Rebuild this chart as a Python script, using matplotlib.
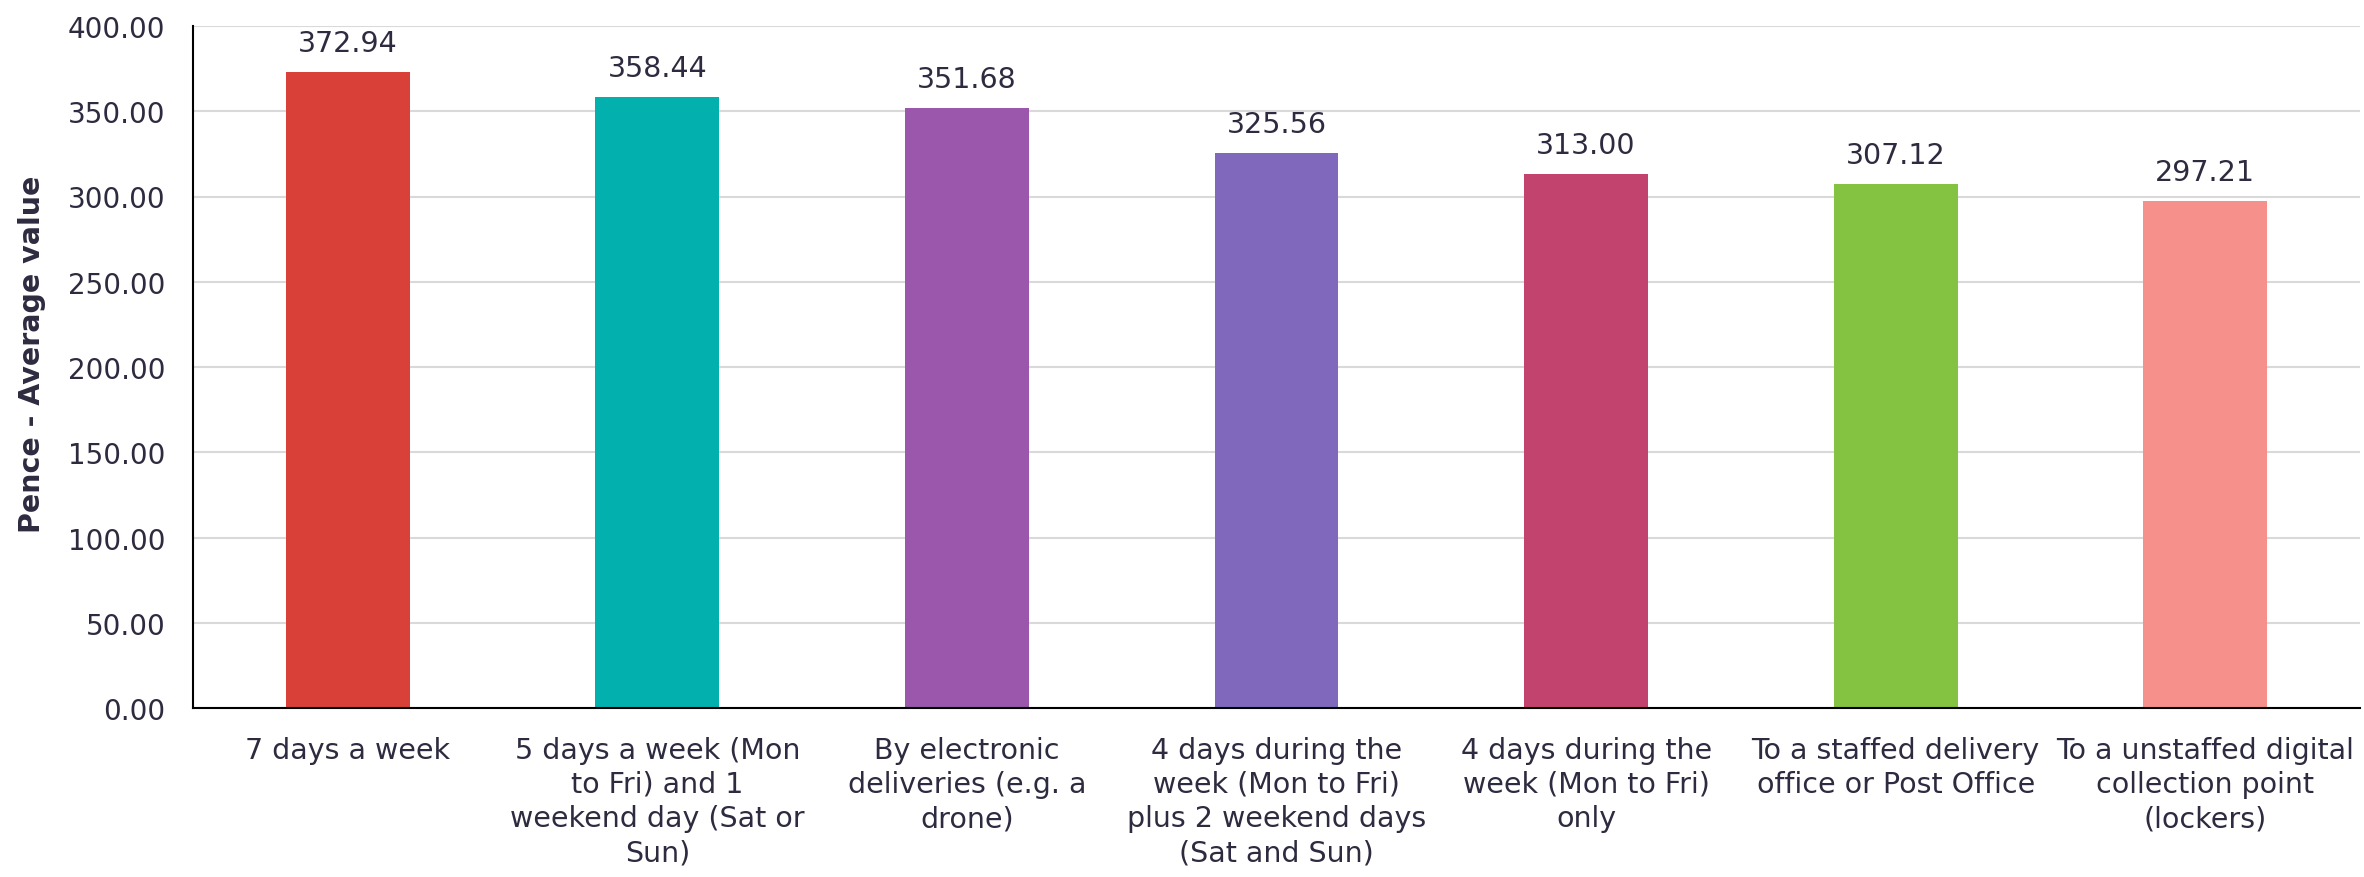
import matplotlib.pyplot as plt

categories = [
    "7 days a week",
    "5 days a week (Mon\nto Fri) and 1\nweekend day (Sat or\nSun)",
    "By electronic\ndeliveries (e.g. a\ndrone)",
    "4 days during the\nweek (Mon to Fri)\nplus 2 weekend days\n(Sat and Sun)",
    "4 days during the\nweek (Mon to Fri)\nonly",
    "To a staffed delivery\noffice or Post Office",
    "To a unstaffed digital\ncollection point\n(lockers)",
]
values = [372.94, 358.44, 351.68, 325.56, 313.00, 307.12, 297.21]
colors = ["#D94037", "#02B1AE", "#9A57AB", "#8069BD", "#C3436F", "#84C241", "#F5908B"]
yticks = [0, 50, 100, 150, 200, 250, 300, 350, 400]

plt.rcParams['font.family'] = ['DejaVu Sans']
txt = "#2E2B40"

fig = plt.figure(figsize=(23.64, 8.78), dpi=100)
ax = fig.add_axes([193 / 2364, 1 - 709 / 878, (2360 - 193) / 2364, (709 - 27) / 878])

x = range(len(categories))
bars = ax.bar(x, values, width=0.4, color=colors, zorder=2)
for b, v in zip(bars, values):
    ax.text(b.get_x() + b.get_width() / 2, v + 9, f"{v:.2f}", ha='center', va='bottom',
            fontsize=20.5, color=txt)

ax.set_xlim(-0.5, len(categories) - 0.5)
ax.set_ylim(0, 400)
ax.set_yticks(yticks)
ax.set_yticklabels([f"{t:.2f}" for t in yticks], fontsize=20, color=txt)
ax.set_xticks(list(x))
ax.set_xticklabels(categories, fontsize=20.5, color=txt, linespacing=1.28)
ax.tick_params(axis='y', length=0, pad=20)
ax.tick_params(axis='x', length=0, pad=20)
ax.yaxis.grid(True, color="#D9D9D9", linewidth=1.5, zorder=0)
ax.set_axisbelow(True)
for s in ['top', 'right']:
    ax.spines[s].set_visible(False)
ax.spines['left'].set_color('black')
ax.spines['bottom'].set_color('black')
ax.spines['left'].set_linewidth(1.5)
ax.spines['bottom'].set_linewidth(1.5)

ax.set_ylabel("Pence - Average value", fontsize=20.5, fontweight='bold', color=txt)
ax.yaxis.set_label_coords(-0.068, 0.52)

fig.savefig("out.png", dpi=100)
